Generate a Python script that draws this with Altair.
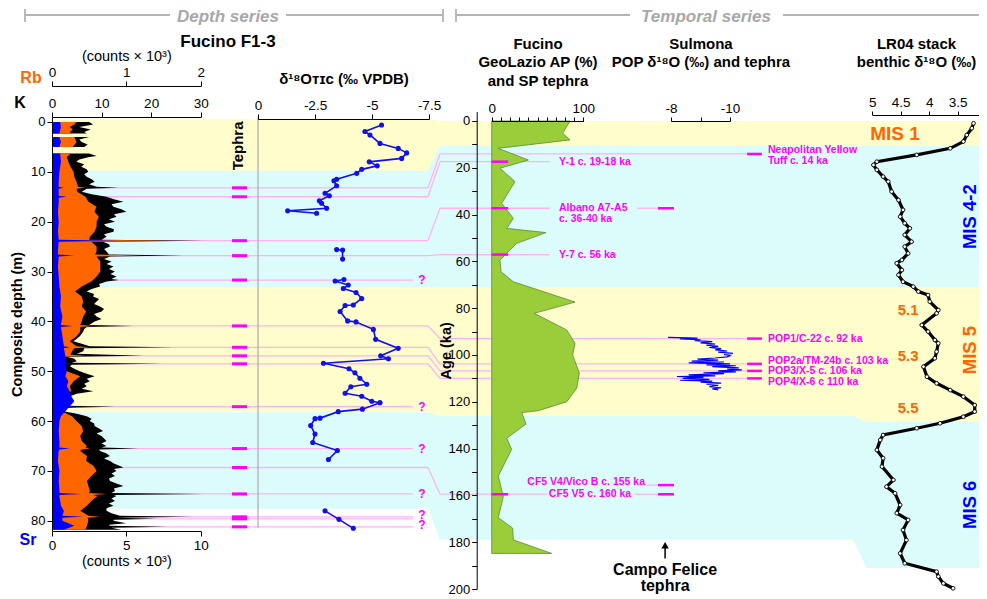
import altair as alt
import pandas as pd

# ======================= DATA =======================
# XRF core scanning, Fucino F1-3 : (composite depth m, counts)
K_profile = [
 (0.0,7.5),(0.5,8.3),(1.0,5.5),(1.5,7.8),(2.0,6.5),(2.3,7.0),
 (3.0,7.5),(3.5,5.5),(4.0,6.0),(4.5,7.2),(5.0,6.5),
 (6.3,7.5),(6.8,9.0),(7.0,7.5),(7.5,5.5),(8.0,4.9),(8.5,6.5),(9.0,5.9),(9.5,7.0),(10.0,7.3),(10.5,6.5),
 (11.0,7.0),(11.5,8.0),(12.0,8.6),(12.5,7.5),(13.0,9.0),(13.2,13.4),(13.4,7.0),(14.0,6.0),(14.5,8.0),
 (15.0,11.0),(15.5,12.5),(16.0,14.4),(16.5,12.0),(17.0,12.4),(17.5,14.0),(18.0,15.0),(18.5,12.5),
 (19.0,13.0),(19.5,11.5),(20.0,12.7),(20.5,10.5),(21.0,11.0),(21.5,12.5),(22.0,12.4),(22.5,10.5),
 (23.0,11.0),(23.6,10.0),(23.8,30.5),(24.0,10.3),(24.5,11.5),(25.0,11.7),(25.5,10.5),(26.0,11.0),
 (26.6,11.5),(26.8,26.5),(27.0,11.7),(27.5,10.5),(28.0,12.0),(28.5,11.0),(29.0,12.4),(29.5,11.5),
 (30.0,12.7),(30.5,11.8),(31.0,13.0),(31.5,12.0),(31.7,13.5),(32.0,11.0),(32.5,9.5),(33.0,9.7),
 (33.5,8.0),(34.0,7.0),(34.5,8.5),(35.0,8.3),(35.5,9.5),(36.0,9.0),(36.5,8.5),(37.0,9.7),(37.5,10.5),
 (38.0,10.0),(38.5,8.5),(39.0,9.0),(39.5,10.0),(40.0,8.6),(40.7,7.5),(40.9,16.4),(41.1,7.0),(41.5,6.5),
 (42.0,6.3),(42.5,6.0),(43.0,5.6),(43.5,5.0),(44.0,4.3),(44.5,6.0),(45.0,7.6),(45.2,24.5),(45.4,6.5),
 (46.0,6.3),(46.5,5.0),(46.9,18.4),(47.1,3.0),(47.5,4.5),(48.0,5.0),(48.3,4.0),(48.5,22.1),(48.7,4.0),
 (49.0,3.6),(49.5,4.5),(50.0,5.6),(50.5,7.0),(51.0,8.6),(51.5,7.0),(52.0,7.6),(52.5,6.5),(53.0,7.0),
 (53.5,6.0),(54.0,8.3),(54.5,5.0),(55.0,3.6),(55.5,4.0),(56.0,4.3),(56.5,3.5),(56.9,3.0),(57.1,12.7),
 (57.3,3.0),(57.6,2.5),(58.0,2.3),(58.5,5.0),(59.0,7.0),(59.5,8.0),(60.0,7.6),(60.5,8.5),(61.0,8.6),
 (61.5,9.5),(62.0,10.3),(62.5,9.0),(63.0,10.0),(63.5,10.5),(64.0,11.0),(64.5,10.0),(65.0,11.0),
 (65.3,10.0),(65.5,17.4),(65.7,9.5),(66.0,9.7),(66.5,11.0),(67.0,11.7),(67.5,10.5),(68.0,11.7),
 (68.5,12.5),(69.0,13.7),(69.3,14.4),(69.6,12.5),(70.0,13.0),(70.5,12.0),(71.0,12.7),(71.5,11.5),
 (72.0,11.7),(72.5,13.0),(73.0,14.4),(73.5,12.5),(74.0,12.7),(74.4,12.0),(74.6,30.5),(74.8,12.5),
 (75.0,13.0),(75.5,12.0),(76.0,12.7),(76.5,11.5),(77.0,12.4),(77.5,11.0),(78.0,11.0),(78.5,12.0),
 (79.0,13.7),(79.2,28.2),(79.4,13.0),(79.6,21.1),(79.8,12.5),(80.0,12.4),(80.5,15.0),(80.8,11.5),
 (81.0,11.7),(81.2,23.1),(81.4,12.0),(81.8,14.0),
]
Rb_profile = [
 (0.0,0.33),(0.5,0.30),(1.0,0.24),(1.5,0.28),(2.0,0.24),(2.3,0.26),
 (3.0,0.30),(4.0,0.33),(5.0,0.28),
 (6.3,0.25),(7.0,0.20),(8.0,0.22),(9.0,0.25),(10.0,0.29),(11.0,0.30),(12.0,0.33),(13.0,0.35),
 (13.2,0.45),(13.4,0.33),(14.0,0.34),(15.0,0.45),(16.0,0.49),(17.0,0.60),(18.0,0.57),(19.0,0.63),
 (20.0,0.60),(21.0,0.60),(22.0,0.57),(23.0,0.51),(23.6,0.50),(23.8,1.55),(24.0,0.53),(25.0,0.60),
 (26.0,0.60),(26.6,0.58),(26.8,1.23),(27.0,0.60),(28.0,0.65),(29.0,0.65),(30.0,0.65),(31.0,0.60),
 (32.0,0.53),(33.0,0.40),(34.0,0.31),(35.0,0.40),(36.0,0.42),(37.0,0.40),(38.0,0.46),(39.0,0.42),
 (40.0,0.40),(40.7,0.38),(40.9,0.56),(41.1,0.38),(42.0,0.38),(43.0,0.33),(44.0,0.24),(45.0,0.33),
 (45.2,0.51),(45.4,0.30),(46.0,0.27),(46.7,0.25),(46.9,0.45),(47.1,0.15),(48.0,0.10),(48.3,0.10),
 (48.5,0.20),(48.7,0.10),(49.0,0.10),(50.0,0.20),(51.0,0.38),(52.0,0.29),(53.0,0.24),(54.0,0.26),
 (55.0,0.13),(56.0,0.16),(57.0,0.10),(57.1,0.20),(57.3,0.10),(58.0,0.13),(59.0,0.27),(60.0,0.33),
 (61.0,0.40),(62.0,0.42),(63.0,0.38),(64.0,0.40),(65.0,0.47),(65.3,0.45),(65.5,0.51),(65.7,0.40),
 (66.0,0.38),(67.0,0.47),(68.0,0.46),(69.0,0.56),(70.0,0.60),(71.0,0.53),(72.0,0.47),(73.0,0.49),
 (74.0,0.51),(74.4,0.50),(74.6,0.74),(74.8,0.55),(75.0,0.61),(76.0,0.53),(77.0,0.47),(78.0,0.38),
 (79.0,0.49),(79.2,0.64),(79.4,0.48),(80.0,0.49),(81.0,0.47),(81.8,0.45),
]
Sr_profile = [
 (0.0,0.55),(1.0,0.60),(2.3,0.50),
 (3.0,0.50),(4.0,0.60),(5.0,0.50),
 (6.3,0.55),(8.0,0.60),(10.0,0.50),(12.0,0.45),(13.0,0.45),(13.2,0.80),(13.4,0.45),(14.0,0.45),
 (14.8,0.45),(15.0,1.00),(15.2,0.45),(16.0,0.45),(18.0,0.40),(20.0,0.45),(22.0,0.40),(23.6,0.45),
 (23.8,4.50),(24.0,0.45),(26.0,0.40),(26.6,0.40),(26.8,1.50),(27.0,0.45),(29.0,0.40),(31.0,0.45),
 (33.0,0.50),(35.0,0.60),(37.0,0.55),(39.0,0.70),(40.7,0.60),(40.9,1.40),(41.1,0.60),(43.0,0.70),
 (45.0,0.80),(45.2,1.20),(45.4,0.80),(47.0,0.90),(48.3,0.90),(48.5,1.30),(48.7,0.90),(50.0,1.00),
 (51.0,0.90),(52.0,1.10),(53.0,1.00),(54.0,1.20),(55.0,1.30),(56.0,1.50),(57.0,1.20),(57.1,1.80),
 (57.3,1.10),(58.0,0.90),(59.0,0.60),(60.0,0.50),(62.0,0.45),(64.0,0.50),(65.3,0.50),(65.5,1.20),
 (65.7,0.50),(66.0,0.45),(68.0,0.40),(70.0,0.50),(72.0,0.45),(74.0,0.50),(74.4,0.50),(74.6,2.00),
 (74.8,0.50),(75.0,0.50),(77.0,0.60),(78.0,0.80),(79.0,0.70),(79.2,2.10),(79.4,0.70),(80.0,0.70),
 (81.0,1.50),(81.8,0.80),
]
XRF_gaps = [2.5, 5.5]          # core gaps (no XRF data) after these depths

# d18O TIC (per mil VPDB) vs depth
d18_depth = [0.6,1.9,2.6,4.3,5.3,6.2,7.3,8.0,8.8,9.5,10.3,11.5,11.8,12.8,14.3,14.8,15.8,16.3,17.3,17.8,18.3,
             25.6,25.7,27.5,
             31.6,31.9,32.7,33.4,34.2,35.4,36.7,36.8,38.0,39.9,40.1,41.6,43.6,45.4,46.9,47.5,48.4,49.5,50.3,
             51.4,52.6,53.1,54.4,55.0,56.0,56.3,57.6,58.1,59.4,59.5,60.9,62.6,64.3,65.9,67.7,
             78.0,79.7,81.5]
d18_value = [-5.42,-4.69,-4.91,-5.35,-6.15,-6.52,-6.30,-4.88,-5.23,-4.55,-4.33,-3.45,-3.33,-3.45,-2.94,-3.13,
             -2.69,-2.79,-3.01,-1.30,-2.57,
             -3.45,-3.71,-3.71,
             -3.77,-3.38,-3.96,-3.74,-4.30,-4.55,-4.18,-3.82,-3.60,-3.93,-4.30,-5.06,-5.16,-6.15,-5.38,-5.72,
             -2.87,-3.99,-4.25,-4.47,-4.77,-4.07,-3.82,-4.55,-4.99,-5.35,-4.58,-3.52,-2.72,-2.50,-2.31,-2.50,
             -2.40,-3.48,-3.09,
             -2.94,-3.55,-4.18]
d18_gaps = [20, 29, 72]

# tephra layers in Fucino F1-3 (depth m) and correlated age (ka), None = uncorrelated (?)
tephra_depth = [13.2, 15.0, 23.8, 26.8, 31.7, 40.9, 45.2, 46.9, 48.5, 57.1, 65.5, 69.3, 74.6, 79.2, 79.6, 81.2]
tephra_depth_age = [14.1, 17.4, 37.3, 57.1, None, 93.0, 103.8, 106.8, 110.0, None, None, 159.5, None, None, None, None]
tephra_query_label_depth = [31.7, 57.1, 65.5, 74.6, 78.9, 80.8]

# Fucino GeoLazio arboreal pollen (%) vs age (ka)
AP_age = [0, 5.3, 8.1, 11.7, 16.7, 20.2, 25.9, 35.2, 41.6, 45.9, 47.7, 52.3, 57.3, 59.4, 64.4, 68.7, 77.4, 82.2,
          89.3, 95, 100, 107.8, 114.2, 120, 123.8, 124.6, 129.5, 135.6, 140.3, 151.7, 160.5, 169.5, 174, 179, 184.8]
AP_value = [85.5, 77.5, 85.5, 7.2, 40, 9, 25.4, 10.9, 23.6, 16.4, 59.3, 27.3, 14.5, 9, 10.2, 23.6, 91, 46.5,
            81.9, 91, 88.4, 95.7, 92.8, 81.9, 50.9, 32.8, 37.4, 16.4, 21.8, 7.2, 12.7, 7.2, 22.9, 23.6, 65.5]
AP_tephra_age = [17.4, 37.3, 57.1, 159.5]

# Sulmona POP d18O (per mil) vs age (ka)
sul_age = [92.5,92.8,93.1,93.5,93.9,94.3,94.8,95.3,95.8,96.3,96.8,97.3,97.8,98.3,98.8,99.3,99.8,100.3,100.8,
           101.3,101.8,102.2,102.6,103.0,103.4,103.8,104.2,104.6,105.0,105.5,106.0,106.4,106.8,107.2,107.6,
           108.0,108.5,108.9,109.2,109.6,110.0,110.4,110.8,111.2,111.6,112.0,112.5,113.0,113.5,114.0,114.5,114.9]
sul_value = [-7.9,-8.9,-8.3,-9.0,-8.8,-9.4,-9.0,-9.5,-9.2,-9.6,-9.3,-9.7,-9.5,-9.9,-9.6,-10.1,-9.8,-10.0,-9.9,
             -9.5,-8.9,-9.6,-8.7,-9.8,-8.6,-10.0,-9.2,-10.2,-9.4,-10.3,-9.9,-10.4,-9.6,-10.2,-9.1,-9.8,-8.6,
             -9.5,-8.2,-9.1,-8.4,-9.3,-8.3,-9.4,-9.0,-9.7,-9.2,-9.6,-9.3,-9.7,-9.4,-9.6]
sul_tephra_left_age = [37.3, 155.6, 159.5]
sul_tephra_right_age = [14.1, 93.0, 103.8, 106.8, 110.0]

# LR04 benthic stack d18O (per mil) vs age (ka)
lr_age = [1.0,3.1,6.0,8.8,11.7,14.5,17.4,18.8,20.9,23.8,25.9,30.2,33.8,38.0,40.9,43.7,45.9,48.7,51.6,53.7,56.6,
          59.4,60.8,63.7,65.8,68.7,70.8,72.9,74.4,77.2,80.8,82.2,87.2,90.0,93.6,95.0,98.6,101.4,105.0,109.3,
          112.1,115.0,117.8,121.4,124.2,126.4,129.2,131.3,134.2,136.3,140.6,144.1,147.7,153.4,156.3,159.1,
          164.1,167.6,170.5,174.8,179.1,184.8,189.0,192.6,194.7,197.6,199.7]
lr_value = [3.22,3.25,3.34,3.40,3.63,4.22,4.92,4.98,4.92,4.81,4.72,4.66,4.54,4.46,4.51,4.43,4.34,4.43,4.31,4.43,
            4.37,4.48,4.57,4.48,4.54,4.46,4.28,4.19,4.02,3.99,3.84,3.87,4.13,4.02,3.90,3.84,3.87,3.90,4.10,4.04,
            3.87,3.63,3.40,3.20,3.20,3.40,3.81,4.22,4.81,4.86,4.92,4.81,4.83,4.63,4.75,4.60,4.51,4.57,4.37,
            4.46,4.40,4.51,4.43,3.87,3.84,3.75,3.58]

# climate-stage bands: depth (m) and age (ka) boundaries
band_kind = ["warm", "cold", "warm", "cold"]
band_depth_bounds = [-0.6, 9.8, 33.2, 58.2, 77.6]
band_age_bounds = [0, 10.5, 71, 126, 179]
lr_band_age_bounds = [0, 10.5, 71, 128.5, 191]

# ======================= LAYOUT =======================
FONT = "Liberation Sans"
YEL, CYA = "#fffdcc", "#dcfcfc"
PINK, MAG = "#ffb2f2", "#ff00ff"
ORANGE, BLUE = "#ff6600", "#0000ff"

OX, OY = 52, 117          # page position of the plotting origin
W, H = 927, 414
TOTAL_W, TOTAL_H = 971, 586
def px(x): return x - OX
def py(y): return y - OY

SC = {
    'K': ([0, 30], [px(52), px(200.7)]),
    'Rb': ([0, 2], [px(52), px(200.7)]),
    'Sr': ([0, 10], [px(52), px(200.7)]),
    'depth': ([-1, 82], [py(117), py(530.8)]),
    'tcol': ([0, 1], [px(232), px(247)]),
    'd18': ([0, -7.5], [px(258), px(429)]),
    'dband': ([0, 1], [px(52), px(428)]),
    'link': ([0, 1], [px(428), px(440)]),
    'age': ([-4, 200], [py(111.6), py(589)]),
    'tframe': ([0, 1], [px(440), px(987)]),
    'AP': ([0, 100], [px(491.7), px(583.3)]),
    'sul': ([-8, -10], [px(671), px(730)]),
    'LR': ([5, 3], [px(872.3), px(986.1)]),
    'figx': ([0, 987], [px(0), px(987)]),
    'figy': ([0, 599], [py(0), py(599)]),
}
def scale(k):
    d, r = SC[k]
    return alt.Scale(domain=d, range=r, nice=False, zero=False)
def Xf(f, k, axis=None, **kw): return alt.X(f, type='quantitative', scale=scale(k), axis=axis, **kw)
def Yf(f, k, axis=None, **kw): return alt.Y(f, type='quantitative', scale=scale(k), axis=axis, **kw)

def depth_to_age_equiv(d):
    (d0, d1), (r0, r1) = SC['depth']
    (a0, a1), (s0, s1) = SC['age']
    v = r0 + (d - d0) / (d1 - d0) * (r1 - r0)
    return a0 + (v - s0) / (s1 - s0) * (a1 - a0)

def seg_of(d, gaps): return sum(d > g for g in gaps)

layers = []
band_color = alt.Color('kind:N', scale=alt.Scale(domain=['warm', 'cold'], range=[YEL, CYA]), legend=None)

# ---- background bands ----
dband = pd.DataFrame({'top': band_depth_bounds[:-1], 'bot': band_depth_bounds[1:], 'kind': band_kind,
                      'x0': 0.0, 'x1': 1.01})
layers.append(alt.Chart(dband).mark_rect().encode(
    x=Xf('x0', 'dband'), x2=alt.X2('x1'), y=Yf('top', 'depth'), y2=alt.Y2('bot'), color=band_color))

rows = []
for i, k in enumerate(band_kind):
    rows.append({'b': i, 'kind': k, 'x': 0, 'ya': depth_to_age_equiv(band_depth_bounds[i]),
                 'yb': depth_to_age_equiv(band_depth_bounds[i + 1])})
    rows.append({'b': i, 'kind': k, 'x': 1, 'ya': band_age_bounds[i], 'yb': band_age_bounds[i + 1]})
layers.append(alt.Chart(pd.DataFrame(rows)).mark_area(orient='vertical').encode(
    x=Xf('x', 'link'), y=Yf('ya', 'age', stack=None), y2=alt.Y2('yb'), detail='b:N', color=band_color))

rows = []
for i, k in enumerate(band_kind):
    for xf, src in [(0, band_age_bounds), (0.755, band_age_bounds), (0.78, lr_band_age_bounds), (1, lr_band_age_bounds)]:
        rows.append({'b': i, 'kind': k, 'x': xf, 'ya': src[i], 'yb': src[i + 1]})
layers.append(alt.Chart(pd.DataFrame(rows)).mark_area(orient='vertical').encode(
    x=Xf('x', 'tframe'), y=Yf('ya', 'age', stack=None), y2=alt.Y2('yb'), detail='b:N', color=band_color))

# ---- tephra connection lines ----
tl = pd.DataFrame({'d': tephra_depth, 'x0': 0.0,
                   'xe': [1.0 if a is not None else 0.96 for a in tephra_depth_age]})
layers.append(alt.Chart(tl).mark_rule(color=PINK, strokeWidth=1.3).encode(
    x=Xf('x0', 'dband'), x2=alt.X2('xe'), y=Yf('d', 'depth')))
lk = pd.DataFrame([{'ya': depth_to_age_equiv(d), 'yb': a, 'x0': 0.0, 'x1': 1.0}
                   for d, a in zip(tephra_depth, tephra_depth_age) if a is not None])
layers.append(alt.Chart(lk).mark_rule(color=PINK, strokeWidth=1.3).encode(
    x=Xf('x0', 'link'), x2=alt.X2('x1'), y=Yf('ya', 'age'), y2=alt.Y2('yb')))
tline = pd.DataFrame({
    'age': [14.1, 17.4, 37.3, 37.3, 57.1, 93.0, 103.8, 106.8, 110.0, 155.6, 159.5, 159.5],
    'x0': [0, 0, 0, 0.360, 0, 0, 0, 0, 0, 0.378, 0, 0.355],
    'x1': [0.5612, 0.201, 0.201, 0.3985, 0.201, 0.5612, 0.5612, 0.5612, 0.5612, 0.3985, 0.197, 0.3985]})
layers.append(alt.Chart(tline).mark_rule(color=PINK, strokeWidth=1.3).encode(
    x=Xf('x0', 'tframe'), x2=alt.X2('x1'), y=Yf('age', 'age')))

# ---- XRF ----
def prof_df(p):
    return pd.DataFrame({'d': [a for a, b in p], 'v': [b for a, b in p], 'seg': [seg_of(a, XRF_gaps) for a, b in p]})
axis_kw = dict(tickSize=5, labelFontSize=13.5, labelExpr="toString(datum.value)", zindex=2)
K_axis = alt.Axis(orient='top', values=[0, 10, 20, 30], title=None, **axis_kw)
depth_axis = alt.Axis(orient='left', values=list(range(0, 81, 10)), title='Composite depth (m)',
                      titleAngle=270, titleX=-35, titleBaseline='middle', titleAlign='center',
                      titleFontSize=14.5, labelFontSize=13, tickSize=5, zindex=2)
layers.append(alt.Chart(prof_df(K_profile)).mark_area(orient='horizontal', color='black').encode(
    x=Xf('v', 'K', axis=K_axis, stack=None), y=Yf('d', 'depth', axis=depth_axis), detail='seg:N'))
Rb_axis = alt.Axis(orient='top', offset=31, values=[0, 1, 2], title='(counts × 10³)', titleFontWeight='normal',
                   titleY=-26, titleBaseline='alphabetic', titleFontSize=14.5, **axis_kw)
layers.append(alt.Chart(prof_df(Rb_profile)).mark_area(orient='horizontal', color=ORANGE).encode(
    x=Xf('v', 'Rb', axis=Rb_axis, stack=None), y=Yf('d', 'depth'), detail='seg:N'))
Sr_axis = alt.Axis(orient='bottom', values=[0, 5, 10], title='(counts × 10³)', titleFontWeight='normal',
                   titleY=34, titleBaseline='alphabetic', titleFontSize=14.5, **axis_kw)
layers.append(alt.Chart(prof_df(Sr_profile)).mark_area(orient='horizontal', color=BLUE).encode(
    x=Xf('v', 'Sr', axis=Sr_axis, stack=None), y=Yf('d', 'depth'), detail='seg:N'))

# ---- tephra column ----
layers.append(alt.Chart(pd.DataFrame({'d': tephra_depth, 'x0': 0.0, 'x1': 1.0})).mark_rule(
    color=MAG, strokeWidth=3).encode(x=Xf('x0', 'tcol'), x2=alt.X2('x1'), y=Yf('d', 'depth')))
layers.append(alt.Chart(pd.DataFrame({'t': ['Tephra'], 'x': [0.4], 'd': [4.8]})).mark_text(
    angle=270, font=FONT, fontWeight='bold', fontSize=15, baseline='middle', align='center').encode(
    x=Xf('x', 'tcol'), y=Yf('d', 'depth'), text='t:N'))

# ---- d18O TIC ----
layers.append(alt.Chart(pd.DataFrame({'x': [0.0], 'ya': [-1.0], 'yb': [81.4]})).mark_rule(
    color='#aaaaaa', strokeWidth=1.2).encode(x=Xf('x', 'd18'), y=Yf('ya', 'depth'), y2=alt.Y2('yb')))
d18 = pd.DataFrame({'d': d18_depth, 'v': d18_value, 'seg': [seg_of(d, d18_gaps) for d in d18_depth]})
d18_axis = alt.Axis(orient='top', offset=-2, values=[0, -2.5, -5, -7.5],
                    title='δ¹⁸Oᴛɪᴄ (‰ VPDB)', titleY=-36, titleBaseline='alphabetic', titleFontSize=15, **axis_kw)
layers.append(alt.Chart(d18).mark_line(color='#1010ee', strokeWidth=1.6).encode(
    x=Xf('v', 'd18', axis=d18_axis), y=Yf('d', 'depth'), detail='seg:N', order='d:Q'))
layers.append(alt.Chart(d18).mark_circle(color='#1010ee', size=26, opacity=1).encode(
    x=Xf('v', 'd18'), y=Yf('d', 'depth')))
layers.append(alt.Chart(pd.DataFrame({'d': tephra_query_label_depth, 'x': -7.19, 't': '?'})).mark_text(
    color=MAG, font=FONT, fontWeight='bold', fontSize=12, baseline='middle').encode(
    x=Xf('x', 'd18'), y=Yf('d', 'depth'), text='t:N'))

# ---- Fucino AP ----
age_axis = alt.Axis(orient='left', offset=-px(476.7), values=list(range(0, 201, 10)),
                    labelExpr="datum.value % 20 == 0 ? datum.label : ''", title='Age (ka)',
                    titleAngle=270, titleX=-30, titleBaseline='middle', titleAlign='center',
                    titleFontSize=14.5, labelFontSize=13, tickSize=5, zindex=2)
AP_axis = alt.Axis(orient='top', offset=-4, values=list(range(0, 101, 10)),
                   labelExpr="datum.value % 100 == 0 ? datum.label : ''", tickSize=4, labelFontSize=13.5,
                   title=['Fucino', 'GeoLazio AP (%)', 'and SP tephra'], titleY=-73, titleBaseline='alphabetic',
                   titleLineHeight=18.5, titleFontSize=15, zindex=2)
layers.append(alt.Chart(pd.DataFrame({'a': AP_age, 'v': AP_value})).mark_area(
    orient='horizontal', color='#9acd3a', stroke='#5a8a3a', strokeWidth=0.8).encode(
    x=Xf('v', 'AP', axis=AP_axis, stack=None), y=Yf('a', 'age', axis=age_axis)))
layers.append(alt.Chart(pd.DataFrame({'a': AP_tephra_age, 'x0': 0.0, 'x1': 18.0})).mark_rule(
    color=MAG, strokeWidth=2.5).encode(x=Xf('x0', 'AP'), x2=alt.X2('x1'), y=Yf('a', 'age')))

# ---- Sulmona ----
sul_axis = alt.Axis(orient='top', offset=-4, values=[-8, -9, -10],
                    labelExpr="datum.value == -9 ? '' : toString(datum.value)", tickSize=4, labelFontSize=13.5,
                    title=['Sulmona', 'POP δ¹⁸O (‰) and tephra'], titleY=-73, titleBaseline='alphabetic',
                    titleLineHeight=18.5, titleFontSize=15, zindex=2)
layers.append(alt.Chart(pd.DataFrame({'a': sul_age, 'v': sul_value})).mark_line(color=BLUE, strokeWidth=1.2).encode(
    x=Xf('v', 'sul', axis=sul_axis), y=Yf('a', 'age'), order='a:Q'))
layers.append(alt.Chart(pd.DataFrame({'a': sul_tephra_left_age, 'x0': -7.56, 'x1': -8.10})).mark_rule(
    color=MAG, strokeWidth=2.5).encode(x=Xf('x0', 'sul'), x2=alt.X2('x1'), y=Yf('a', 'age')))
layers.append(alt.Chart(pd.DataFrame({'a': sul_tephra_right_age, 'x0': -10.58, 'x1': -11.08})).mark_rule(
    color=MAG, strokeWidth=2.5).encode(x=Xf('x0', 'sul'), x2=alt.X2('x1'), y=Yf('a', 'age')))
# Campo Felice arrow
layers.append(alt.Chart(pd.DataFrame({'x': [-7.8], 'ya': [181.8], 'yb': [187.0]})).mark_rule(
    color='black', strokeWidth=1.5).encode(x=Xf('x', 'sul'), y=Yf('ya', 'age'), y2=alt.Y2('yb')))
layers.append(alt.Chart(pd.DataFrame({'x': [-7.8], 'a': [181.3]})).mark_point(
    shape='triangle-up', filled=True, color='black', size=55, opacity=1).encode(x=Xf('x', 'sul'), y=Yf('a', 'age')))
cf = pd.DataFrame({'t': ['Campo Felice', 'tephra'], 'a': [191.8, 198.6], 'x': [-7.8, -7.8]})
layers.append(alt.Chart(cf).mark_text(font=FONT, fontWeight='bold', fontSize=16, baseline='middle').encode(
    x=Xf('x', 'sul'), y=Yf('a', 'age'), text='t:N'))

# ---- tephra labels ----
lab_left = pd.DataFrame({
    't': ['Neapolitan Yellow', 'Tuff c. 14 ka', 'Y-1 c. 19-18 ka', 'Albano A7-A5', 'c. 36-40 ka', 'Y-7 c. 56 ka',
          'POP1/C-22 c. 92 ka', 'POP2a/TM-24b c. 103 ka', 'POP3/X-5 c. 106 ka', 'POP4/X-6 c 110 ka', 'CF5 V5 c. 160 ka'],
    'a': [12.3, 17.3, 17.4, 37.2, 41.8, 57.1, 93.2, 102.4, 106.7, 111.4, 159.5],
    'x': [0.5996, 0.5996, 0.2176, 0.2176, 0.2176, 0.2176, 0.5996, 0.5996, 0.5996, 0.5996, 0.199]})
layers.append(alt.Chart(lab_left).mark_text(font=FONT, fontWeight='bold', fontSize=10.5, color=MAG,
                                            align='left', baseline='middle').encode(
    x=Xf('x', 'tframe'), y=Yf('a', 'age'), text='t:N'))
lab_right = pd.DataFrame({'t': ['CF5 V4/Vico B c. 155 ka'], 'a': [154.1], 'x': [0.3748]})
layers.append(alt.Chart(lab_right).mark_text(font=FONT, fontWeight='bold', fontSize=10.5, color=MAG,
                                             align='right', baseline='middle').encode(
    x=Xf('x', 'tframe'), y=Yf('a', 'age'), text='t:N'))

# ---- LR04 ----
lr_axis = alt.Axis(orient='top', offset=2, values=[5, 4.5, 4, 3.5, 3], tickSize=4, labelFontSize=13.5,
                   labelExpr="toString(datum.value)", zindex=2,
                   title=['LR04 stack', 'benthic δ¹⁸O (‰)'], titleY=-67, titleX=px(916),
                   titleBaseline='alphabetic', titleLineHeight=18.5, titleFontSize=15)
lr = pd.DataFrame({'a': lr_age, 'v': lr_value})
layers.append(alt.Chart(lr).mark_line(color='black', strokeWidth=3.2).encode(
    x=Xf('v', 'LR', axis=lr_axis), y=Yf('a', 'age'), order='a:Q'))
layers.append(alt.Chart(lr).mark_point(shape='circle', filled=True, fill='white', stroke='black', strokeWidth=0.9,
                                       size=14, opacity=1).encode(x=Xf('v', 'LR'), y=Yf('a', 'age')))
mis_h = pd.DataFrame({'t': ['MIS 1'], 'v': [4.6], 'a': [5.7]})
layers.append(alt.Chart(mis_h).mark_text(font=FONT, fontWeight='bold', fontSize=19, color=ORANGE, baseline='middle').encode(
    x=Xf('v', 'LR'), y=Yf('a', 'age'), text='t:N'))
sub = pd.DataFrame({'t': ['5.1', '5.3', '5.5'], 'v': [4.37, 4.37, 4.37], 'a': [80.8, 100.3, 122.8]})
layers.append(alt.Chart(sub).mark_text(font=FONT, fontWeight='bold', fontSize=15, color=ORANGE, baseline='middle').encode(
    x=Xf('v', 'LR'), y=Yf('a', 'age'), text='t:N'))
mis_v = pd.DataFrame({'t': ['MIS 4-2', 'MIS 5', 'MIS 6'], 'v': [3.29, 3.29, 3.29], 'a': [40.9, 97.9, 164],
                      'c': [BLUE, ORANGE, BLUE]})
layers.append(alt.Chart(mis_v).mark_text(font=FONT, fontWeight='bold', fontSize=18.5, angle=270, baseline='middle').encode(
    x=Xf('v', 'LR'), y=Yf('a', 'age'), text='t:N', color=alt.Color('c:N', scale=None)))

# ---- figure decorations (page frame) ----
hdr = pd.DataFrame({'x': [25, 286, 25, 443, 456, 456, 783], 'ya': [15, 15, 9, 9, 9, 15, 15],
                    'x2': [170, 443, 25, 443, 456, 630, 987], 'yb': [15, 15, 22, 22, 22, 15, 15]})
layers.append(alt.Chart(hdr).mark_rule(color='#b4b4b4', strokeWidth=1.8).encode(
    x=Xf('x', 'figx'), x2=alt.X2('x2'), y=Yf('ya', 'figy'), y2=alt.Y2('yb')))
ht = pd.DataFrame({'t': ['Depth series', 'Temporal series'], 'x': [228, 706], 'y': [17, 17]})
layers.append(alt.Chart(ht).mark_text(font=FONT, fontWeight='bold', fontStyle='italic', fontSize=17,
                                      color='#a8a8a8', baseline='middle').encode(
    x=Xf('x', 'figx'), y=Yf('y', 'figy'), text='t:N'))
ft = pd.DataFrame({'t': ['Fucino F1-3', 'K', 'Rb', 'Sr'], 'x': [228, 20, 31, 28], 'y': [42, 103, 78, 540],
                   'c': ['black', 'black', ORANGE, BLUE]})
layers.append(alt.Chart(ft.iloc[:1]).mark_text(font=FONT, fontWeight='bold', fontSize=17, baseline='middle').encode(
    x=Xf('x', 'figx'), y=Yf('y', 'figy'), text='t:N'))
layers.append(alt.Chart(ft.iloc[1:]).mark_text(font=FONT, fontWeight='bold', fontSize=16, baseline='middle').encode(
    x=Xf('x', 'figx'), y=Yf('y', 'figy'), text='t:N', color=alt.Color('c:N', scale=None)))

chart = alt.layer(*layers).resolve_scale(
    x='independent', y='independent', color='independent'
).properties(
    width=W, height=H, autosize=alt.AutoSizeParams(type='none'),
    padding={'left': OX - 8, 'top': OY - 8, 'right': TOTAL_W - W - (OX - 8),
             'bottom': TOTAL_H - (OY - 8) - H}
).configure_view(stroke=None).configure_axis(
    grid=False, labelFont=FONT, titleFont=FONT, labelColor='black', titleColor='black',
    domainColor='black', tickColor='black', labelFlush=False, labelOverlap=False,
    titleFontWeight='bold', labelPadding=2
)

chart.save("out.html", embed_options={"renderer": "svg", "actions": False})
